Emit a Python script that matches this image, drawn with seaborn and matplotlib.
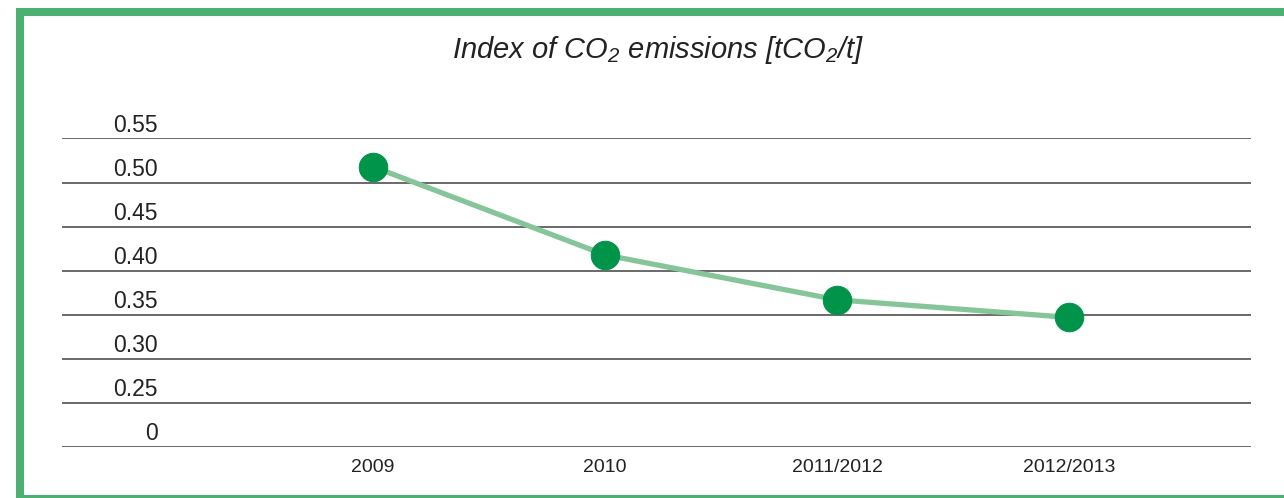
import matplotlib
matplotlib.use("Agg")
import matplotlib.pyplot as plt
import matplotlib.transforms as mtransforms
from matplotlib.patches import Rectangle
import seaborn as sns
import pandas as pd

# data
periods = ["2009", "2010", "2011/2012", "2012/2013"]
co2_index = [0.518, 0.418, 0.367, 0.347]

# axis is broken: lowest line is labelled 0 but sits at 0.20
tick_values = [0.20, 0.25, 0.30, 0.35, 0.40, 0.45, 0.50, 0.55]
tick_labels = ["0", "0.25", "0.30", "0.35", "0.40", "0.45", "0.50", "0.55"]

sns.set_theme(style="white")
plt.rcParams["font.family"] = ["Liberation Sans", "DejaVu Sans"]
plt.rcParams["mathtext.fontset"] = "custom"
plt.rcParams["mathtext.it"] = "Liberation Sans:italic"
plt.rcParams["mathtext.rm"] = "Liberation Sans:italic"
plt.rcParams["mathtext.default"] = "it"

df = pd.DataFrame({"period": periods, "index": co2_index})
df["pos"] = range(len(df))

fig = plt.figure(figsize=(12.84, 4.98), dpi=100)
ax = fig.add_axes([62 / 1284, 1 - 447 / 498, 1189 / 1284, (447 - 138.5) / 498])

sns.lineplot(data=df, x="pos", y="index", ax=ax, color="#86c59a", linewidth=3.8,
             marker="o", markersize=20.5, markerfacecolor="#00944a",
             markeredgecolor="#00944a", zorder=3)

ax.set_xlim(-1.3405, 3.7845)
ax.set_ylim(0.20, 0.55)
ax.set_yticks(tick_values)
ax.set_yticklabels([])
ax.yaxis.grid(True, color="#5e5e5e", linewidth=1.3)
ax.set_axisbelow(True)
ax.set_xticks(df["pos"])
ax.set_xticklabels(periods, fontsize=14, color="#222222")
ax.tick_params(axis="both", length=0)
ax.tick_params(axis="x", pad=9)
ax.set_xlabel("")
ax.set_ylabel("")
for s in ax.spines.values():
    s.set_visible(False)

# y labels sit above their gridline, inside the plot
trans = mtransforms.blended_transform_factory(ax.transAxes, ax.transData)
trans = mtransforms.offset_copy(trans, fig=fig, x=0, y=5, units="points")
for v, lab in zip(tick_values, tick_labels):
    ax.text((158 - 62) / 1189, v, lab, transform=trans, ha="right", va="baseline",
            fontsize=16.5, color="#222222")

fig.text(658 / 1284, 1 - 50 / 498, r"Index of CO$_2$ emissions [tCO$_2$/t]",
         ha="center", va="center", fontsize=21, style="italic", color="#222222")

# green frame
fig.patches.append(Rectangle((20 / 1284, -1 / 498), 1.05, 487 / 498,
                             transform=fig.transFigure, fill=False,
                             edgecolor="#4caf74", linewidth=5.8))

fig.savefig("out.png", dpi=100)
